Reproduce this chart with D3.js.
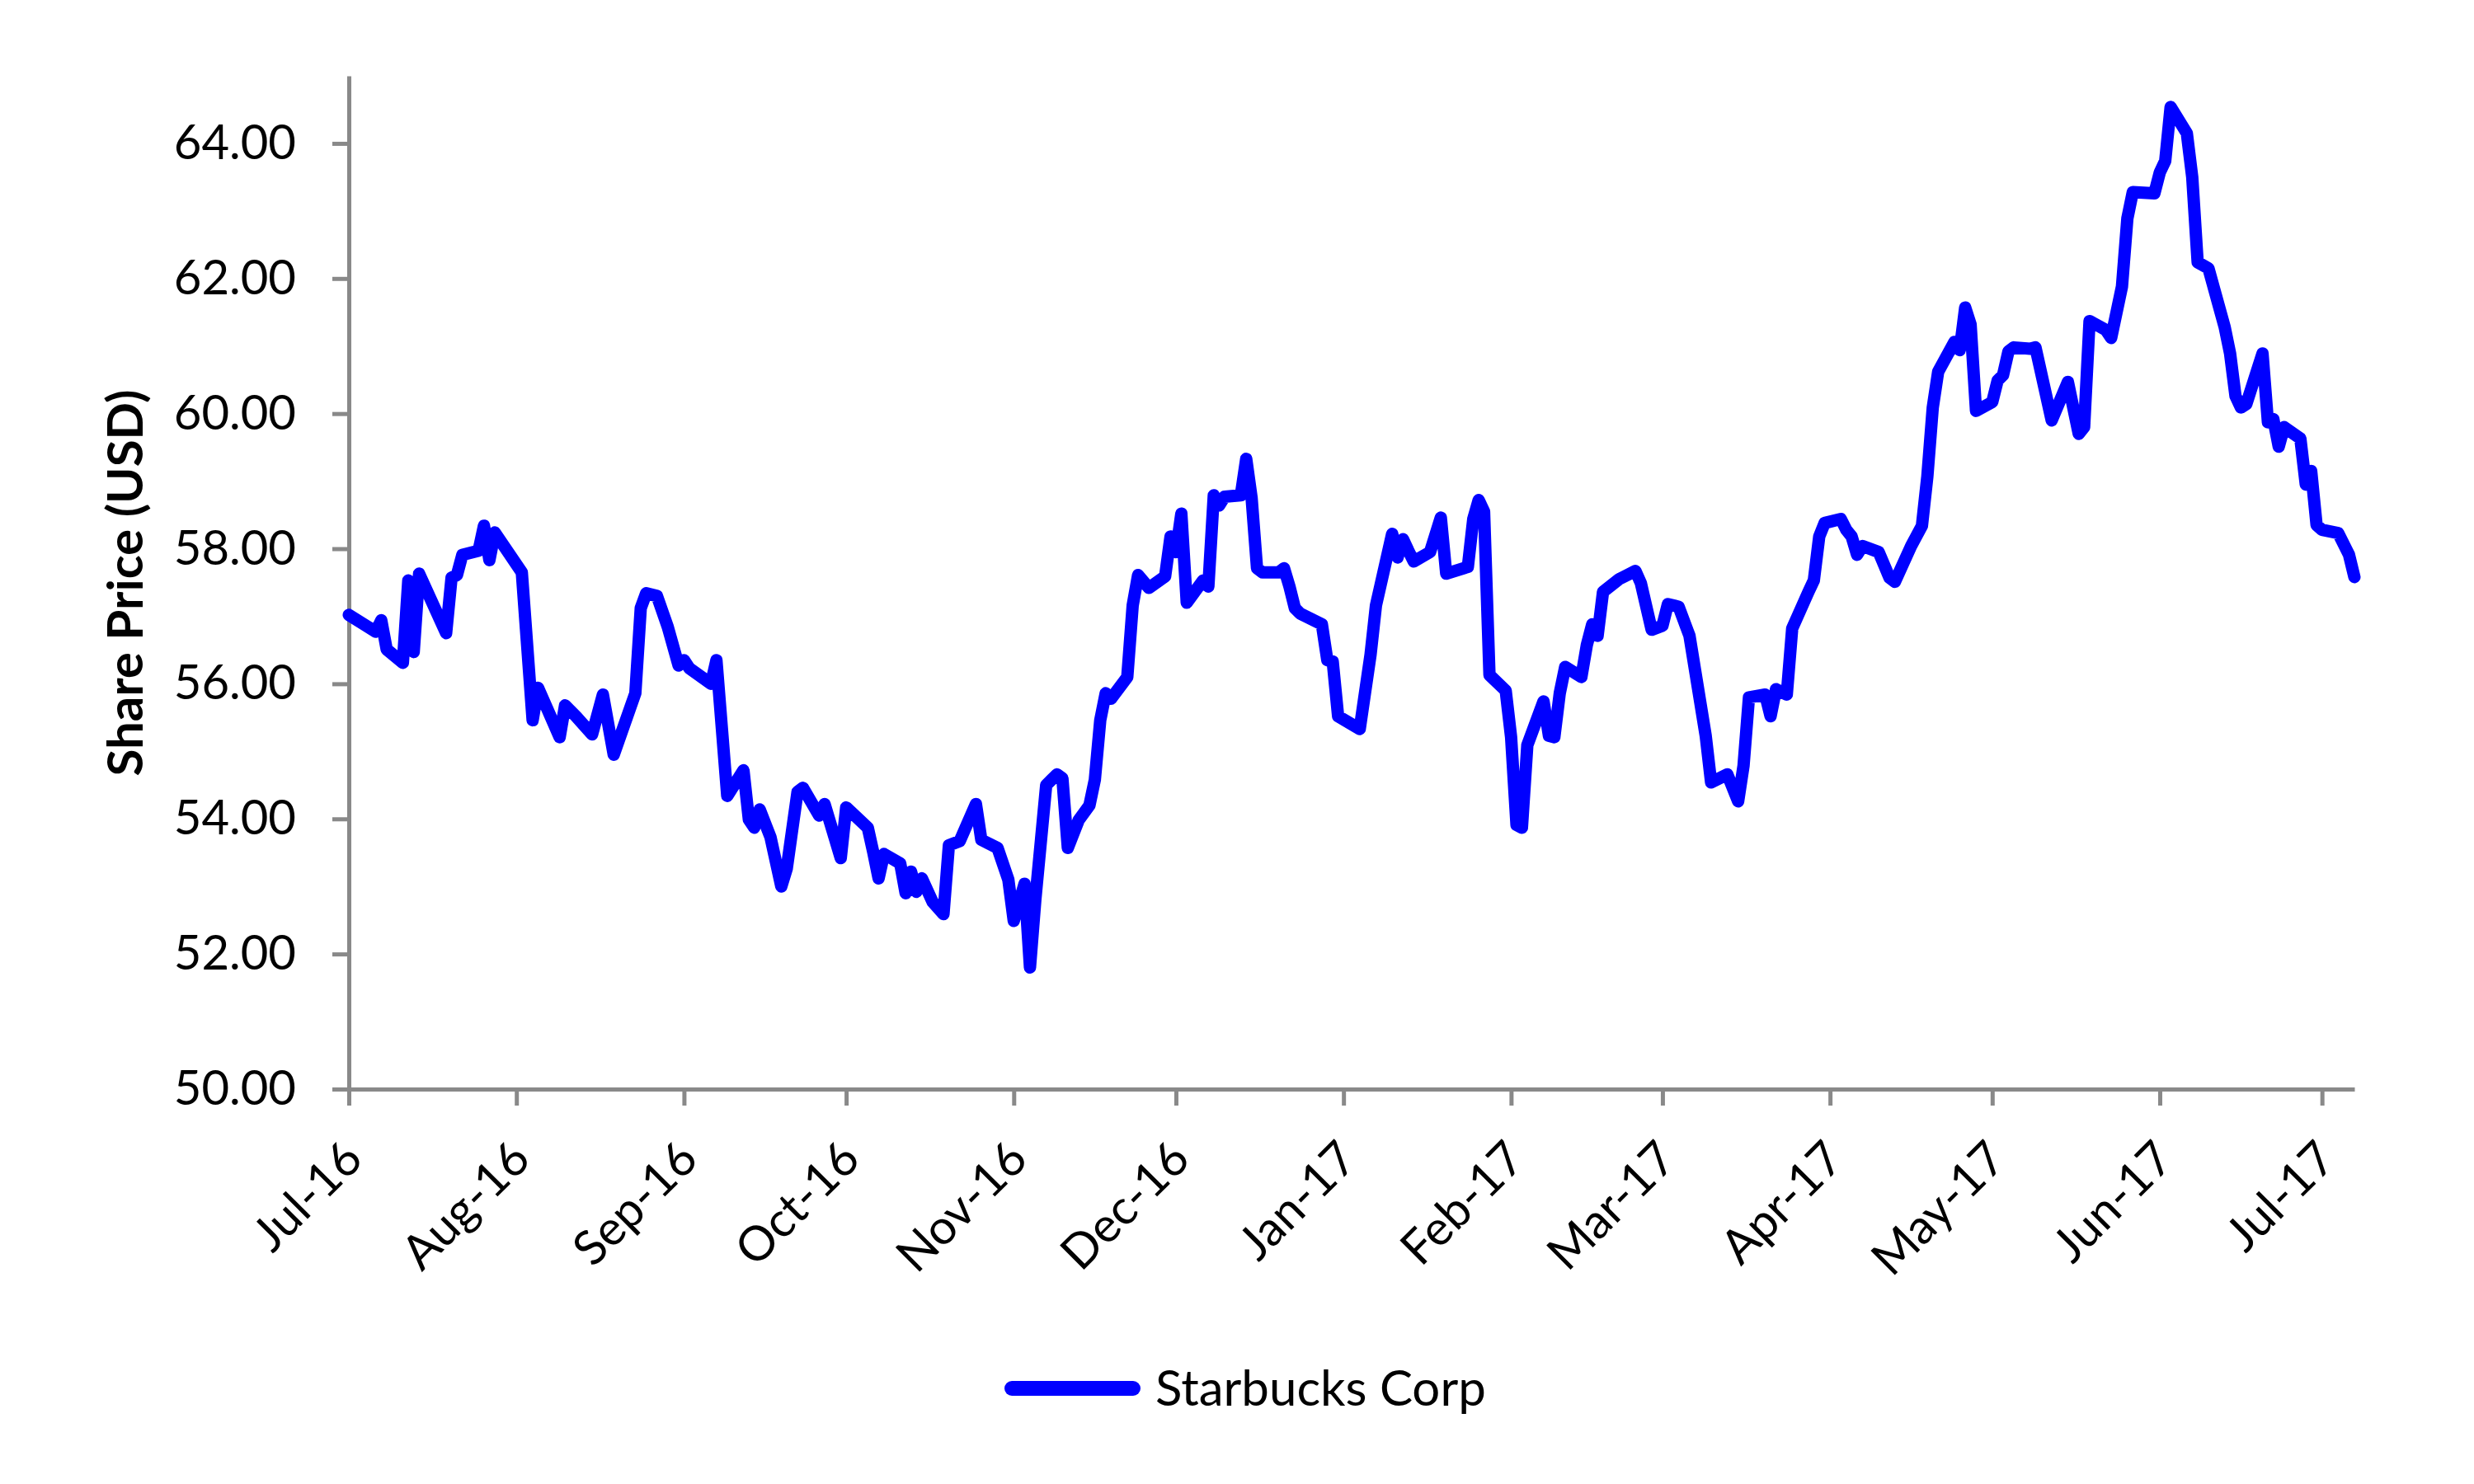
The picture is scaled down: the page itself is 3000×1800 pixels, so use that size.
<!DOCTYPE html>
<html>
<head>
<meta charset="utf-8">
<script src="https://cdn.jsdelivr.net/npm/d3@7"></script>
<style>
body { margin: 0; background: #ffffff; }
text { font-family: Lato, "Noto Sans", sans-serif; fill: #000000; }
</style>
</head>
<body>
<div id="main"></div>
<script>
// values (closing prices at each visible vertex)
const dates = [
    "2016-07-01","2016-07-06","2016-07-07","2016-07-08","2016-07-11","2016-07-12","2016-07-13","2016-07-14",
    "2016-07-19","2016-07-20","2016-07-21","2016-07-22","2016-07-25","2016-07-26","2016-07-27","2016-07-28",
    "2016-08-02","2016-08-04","2016-08-05","2016-08-09","2016-08-10","2016-08-12","2016-08-15","2016-08-17",
    "2016-08-19","2016-08-23","2016-08-24","2016-08-25","2016-08-27","2016-08-29","2016-08-31","2016-09-01",
    "2016-09-02","2016-09-06","2016-09-07","2016-09-09","2016-09-12","2016-09-13","2016-09-14","2016-09-15",
    "2016-09-17","2016-09-19","2016-09-20","2016-09-22","2016-09-23","2016-09-26","2016-09-27","2016-09-30",
    "2016-10-01","2016-10-05","2016-10-06","2016-10-07","2016-10-08","2016-10-11","2016-10-12","2016-10-13",
    "2016-10-14","2016-10-15","2016-10-17","2016-10-19","2016-10-20","2016-10-22","2016-10-25","2016-10-26",
    "2016-10-29","2016-10-31","2016-11-01","2016-11-03","2016-11-04","2016-11-05","2016-11-07","2016-11-09",
    "2016-11-10","2016-11-11","2016-11-13","2016-11-15","2016-11-16","2016-11-17","2016-11-18","2016-11-19",
    "2016-11-22","2016-11-23","2016-11-24","2016-11-26","2016-11-29","2016-11-30","2016-12-01","2016-12-02",
    "2016-12-03","2016-12-06","2016-12-07","2016-12-08","2016-12-09","2016-12-10","2016-12-13","2016-12-14",
    "2016-12-15","2016-12-16","2016-12-17","2016-12-20","2016-12-21","2016-12-22","2016-12-23","2016-12-24",
    "2016-12-28","2016-12-29","2016-12-30","2016-12-31","2017-01-04","2017-01-06","2017-01-07","2017-01-10",
    "2017-01-11","2017-01-12","2017-01-13","2017-01-14","2017-01-17","2017-01-19","2017-01-20","2017-01-24",
    "2017-01-25","2017-01-26","2017-01-27","2017-01-28","2017-01-31","2017-02-01","2017-02-02","2017-02-03",
    "2017-02-04","2017-02-07","2017-02-08","2017-02-09","2017-02-10","2017-02-11","2017-02-14","2017-02-15",
    "2017-02-16","2017-02-17","2017-02-18","2017-02-21","2017-02-22","2017-02-24","2017-02-25","2017-02-27",
    "2017-03-01","2017-03-02","2017-03-04","2017-03-06","2017-03-09","2017-03-10","2017-03-13","2017-03-15",
    "2017-03-16","2017-03-17","2017-03-20","2017-03-21","2017-03-22","2017-03-24","2017-03-25","2017-03-28",
    "2017-03-29","2017-03-30","2017-03-31","2017-04-03","2017-04-04","2017-04-05","2017-04-06","2017-04-07",
    "2017-04-10","2017-04-12","2017-04-13","2017-04-16","2017-04-18","2017-04-19","2017-04-20","2017-04-21",
    "2017-04-24","2017-04-25","2017-04-26","2017-04-27","2017-04-28","2017-05-01","2017-05-02","2017-05-03",
    "2017-05-04","2017-05-05","2017-05-08","2017-05-09","2017-05-12","2017-05-15","2017-05-17","2017-05-18",
    "2017-05-19","2017-05-22","2017-05-23","2017-05-25","2017-05-26","2017-05-27","2017-05-31","2017-06-01",
    "2017-06-02","2017-06-03","2017-06-06","2017-06-07","2017-06-08","2017-06-10","2017-06-13","2017-06-14",
    "2017-06-15","2017-06-16","2017-06-17","2017-06-20","2017-06-21","2017-06-22","2017-06-23","2017-06-24",
    "2017-06-27","2017-06-28","2017-06-29","2017-06-30","2017-07-01","2017-07-04","2017-07-06","2017-07-07"
];
const prices = [
    57.02,56.77,56.94,56.51,56.31,57.53,56.47,57.63,
    56.75,57.57,57.61,57.91,57.97,58.34,57.83,58.24,
    57.65,55.46,55.94,55.21,55.68,55.52,55.25,55.84,
    54.95,55.86,57.12,57.34,57.30,56.84,56.27,56.35,
    56.23,56.00,56.35,54.34,54.72,53.99,53.87,54.14,
    53.73,53.00,53.26,54.40,54.46,54.05,54.22,53.42,
    54.17,53.87,53.51,53.12,53.48,53.34,52.90,53.22,
    52.92,53.12,52.77,52.59,53.61,53.67,54.22,53.69,
    53.57,53.10,52.49,53.04,51.80,52.81,54.50,54.66,
    54.60,53.57,53.98,54.20,54.58,55.46,55.86,55.78,
    56.10,57.16,57.61,57.42,57.59,58.18,57.95,58.52,
    57.20,57.53,57.44,58.79,58.64,58.77,58.79,59.33,
    58.75,57.71,57.65,57.65,57.71,57.44,57.12,57.04,
    56.88,56.35,56.33,55.52,55.33,56.43,57.16,58.22,
    57.87,58.14,57.97,57.81,57.95,58.46,57.63,57.73,
    58.44,58.72,58.55,56.13,55.90,55.21,53.91,53.87,
    55.09,55.74,55.23,55.21,55.86,56.25,56.10,56.57,
    56.88,56.71,57.36,57.55,57.59,57.67,57.49,56.80,
    56.86,57.18,57.14,56.71,55.23,54.54,54.66,54.26,
    54.79,55.80,55.84,55.52,55.92,55.84,56.82,57.36,
    57.53,58.18,58.38,58.44,58.28,58.18,57.91,58.04,
    57.95,57.57,57.51,58.04,58.34,59.07,60.09,60.62,
    61.06,60.94,61.57,61.32,60.04,60.17,60.49,60.57,
    60.92,60.98,60.96,60.98,59.90,60.47,59.70,59.80,
    61.37,61.24,61.12,61.88,62.89,63.28,63.26,63.57,
    63.74,64.54,64.15,63.50,62.24,62.15,61.28,60.89,
    60.26,60.09,60.14,60.89,59.87,59.92,59.51,59.80,
    59.63,58.95,59.15,58.35,58.28,58.23,57.91,57.58
];
const yTicks = [50, 52, 54, 56, 58, 60, 62, 64];
const xDomain = ["2016-07-01", "2017-07-07"];
const seriesName = "Starbucks Corp";
const yTitle = "Share Price (USD)";

const ctx = {
    w: 3000,
    h: 1800,
    left: 423,
    right: 2855,
    top: 92,
    bottom: 1321,
    axisColor: "#898989",
    lineColor: "#0000ff",
    fontSize: 58,
};

function drawAxes(svgEl, x, y) {
    let yAxis = svgEl.append("g")
        .attr("transform", `translate(${ctx.left},0)`)
        .call(d3.axisLeft(y)
            .tickValues(yTicks)
            .tickFormat(d3.format(".2f"))
            .tickSize(20)
            .tickSizeOuter(0)
            .tickPadding(44));
    yAxis.selectAll("path, line")
        .attr("stroke", ctx.axisColor)
        .attr("stroke-width", 5);
    yAxis.selectAll("text")
        .style("font-size", ctx.fontSize + "px")
        .attr("fill", "#000");

    let xAxis = svgEl.append("g")
        .attr("transform", `translate(0,${ctx.bottom})`)
        .call(d3.axisBottom(x)
            .ticks(d3.timeMonth.every(1))
            .tickFormat(d3.timeFormat("%b-%y"))
            .tickSize(20)
            .tickSizeOuter(0));
    xAxis.selectAll("path, line")
        .attr("stroke", ctx.axisColor)
        .attr("stroke-width", 5);
    // rotated month labels, end of text under the tick
    xAxis.selectAll("text")
        .attr("y", 0)
        .attr("dy", 0)
        .attr("text-anchor", "end")
        .attr("transform", "translate(19,88) rotate(-45)")
        .style("font-size", ctx.fontSize + "px")
        .attr("fill", "#000");

    svgEl.append("text")
        .attr("transform", "translate(150,707) rotate(-90)")
        .attr("text-anchor", "middle")
        .attr("dominant-baseline", "central")
        .style("font-size", "60px")
        .style("font-weight", "bold")
        .text(yTitle);
}

function drawSeries(svgEl, x, y, data) {
    let line = d3.line()
        .x(d => x(d.date))
        .y(d => y(d.price));
    svgEl.append("path")
        .datum(data)
        .attr("d", line)
        .attr("fill", "none")
        .attr("stroke", ctx.lineColor)
        .attr("stroke-width", 15)
        .attr("stroke-linejoin", "round")
        .attr("stroke-linecap", "round");
}

function drawLegend(svgEl) {
    let legend = svgEl.append("g").attr("id", "legend");
    legend.append("line")
        .attr("x1", 1227)
        .attr("x2", 1374)
        .attr("y1", 1684)
        .attr("y2", 1684)
        .attr("stroke", ctx.lineColor)
        .attr("stroke-width", 18)
        .attr("stroke-linecap", "round");
    legend.append("text")
        .attr("x", 1401)
        .attr("y", 1705)
        .style("font-size", "60px")
        .text(seriesName);
}

function createViz() {
    let svgEl = d3.select("#main").append("svg")
        .attr("width", ctx.w)
        .attr("height", ctx.h);
    svgEl.append("rect")
        .attr("width", ctx.w)
        .attr("height", ctx.h)
        .attr("fill", "#ffffff");

    const parse = d3.timeParse("%Y-%m-%d");
    const data = dates.map((d, i) => ({date: parse(d), price: prices[i]}));

    let x = d3.scaleTime()
        .domain(xDomain.map(parse))
        .range([ctx.left, ctx.right]);
    let y = d3.scaleLinear()
        .domain([50, 65])
        .range([ctx.bottom, ctx.top]);

    drawAxes(svgEl, x, y);
    drawSeries(svgEl, x, y, data);
    drawLegend(svgEl);
}

createViz();
</script>
</body>
</html>
